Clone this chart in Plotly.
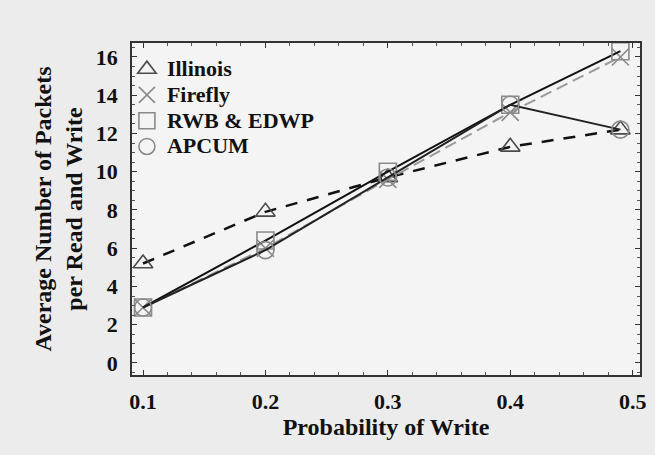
import plotly.graph_objects as go

prob_write = [0.1, 0.2, 0.3, 0.4, 0.49]
illinois = [5.2, 7.9, 9.7, 11.3, 12.2]
firefly = [2.9, 6.0, 9.6, 13.1, 16.0]
rwb_edwp = [2.9, 6.4, 10.0, 13.5, 16.3]
apcum = [2.9, 5.9, 9.7, 13.5, 12.2]

x_ticks = [0.1, 0.2, 0.3, 0.4, 0.5]
x_tick_labels = ["0.1", "0.2", "0.3", "0.4", "0.5"]
y_ticks = [0, 2, 4, 6, 8, 10, 12, 14, 16]

series = [
    ("Illinois", illinois, "triangle-up-open", "#4a4a4a", dict(color="#111", width=2.5, dash="12px,10px")),
    ("Firefly", firefly, "x-thin-open", "#8a8a8a", dict(color="#9a9a9a", width=2, dash="12px,6px")),
    ("RWB & EDWP", rwb_edwp, "square-open", "#8a8a8a", dict(color="#111", width=2)),
    ("APCUM", apcum, "circle-open", "#8a8a8a", dict(color="#222", width=2)),
]

fig = go.Figure()
for name, vals, sym, mcol, line in series:
    fig.add_trace(go.Scatter(
        x=prob_write, y=vals, mode="lines+markers", name=name, showlegend=False,
        line=line,
        marker=dict(symbol=sym, size=17, color=mcol, line=dict(color=mcol, width=1.6)),
    ))
for name, vals, sym, mcol, line in series:
    fig.add_trace(go.Scatter(
        x=[None], y=[None], mode="markers",
        name='<span style="font-size:22px"><b>%s</b></span>' % name, showlegend=True,
        marker=dict(symbol=sym, size=16, color=mcol, line=dict(color=mcol, width=1.6)),
    ))

font_family = "Liberation Serif, Times New Roman, serif"
fig.update_layout(
    width=655, height=455,
    margin=dict(l=132, r=9, t=43, b=80),
    paper_bgcolor="#ececec",
    plot_bgcolor="#f4f4f4",
    font=dict(family=font_family, size=22, color="#111"),
    legend=dict(x=-0.01, y=0.975, xanchor="left", yanchor="top",
                bgcolor="rgba(0,0,0,0)", font=dict(size=17.5, family=font_family),
                tracegroupgap=0, itemwidth=30),
    xaxis=dict(
        range=[0.091, 0.506], tickvals=x_ticks, ticktext=["<b>%s</b>" % t for t in x_tick_labels],
        ticks="inside", ticklen=5, tickcolor="#333", showgrid=False, zeroline=False,
        showline=True, linecolor="#333", linewidth=1.5, mirror="ticks",
        minor=dict(dtick=0.02, ticks="inside", ticklen=3, tickcolor="#555"),
        title=dict(text="<b>Probability of Write</b>", font=dict(size=24), standoff=0),
        tickfont=dict(size=22), ticklabelstandoff=6,
    ),
    yaxis=dict(
        range=[-0.63, 16.73], tickvals=y_ticks, ticktext=["<b>%d</b>" % v for v in y_ticks],
        ticks="inside", ticklen=5, tickcolor="#333", showgrid=False, zeroline=False,
        showline=True, linecolor="#333", linewidth=1.5, mirror="ticks",
        minor=dict(dtick=0.5, ticks="inside", ticklen=3, tickcolor="#555"),
        title=dict(text="<b>Average Number of Packets<br>per Read and Write</b>", font=dict(size=24), standoff=6),
        tickfont=dict(size=22), ticklabelstandoff=8,
    ),
)

fig.write_html("out.html", config={"displayModeBar": False},
               post_script="document.body.style.margin='0';")
